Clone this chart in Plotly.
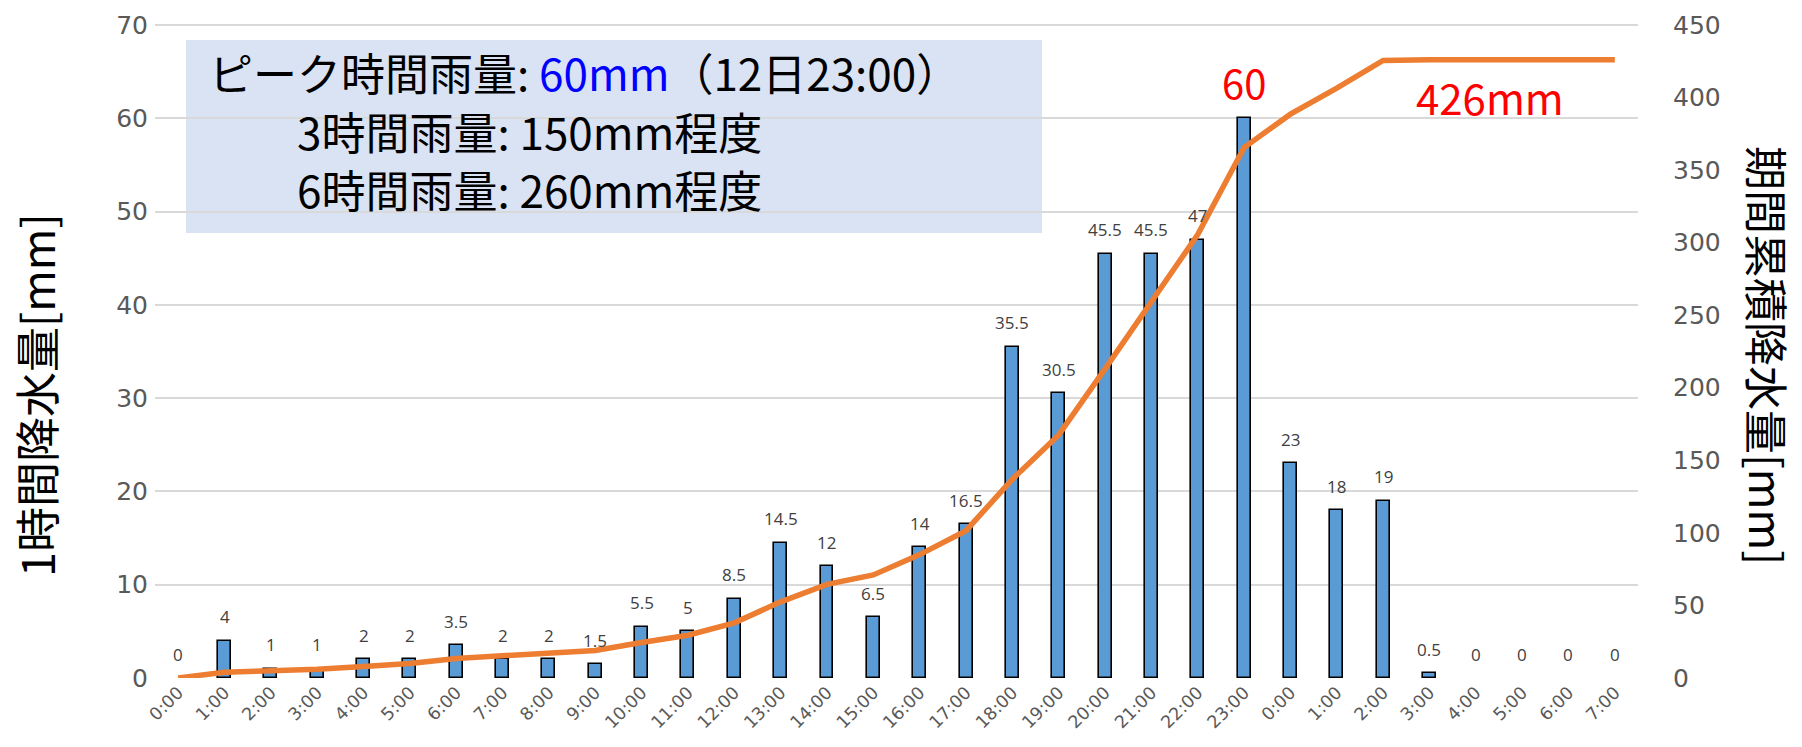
import plotly.graph_objects as go

# Hourly precipitation, 0:00 on the 12th through 7:00 on the 13th
hours = ["0:00", "1:00", "2:00", "3:00", "4:00", "5:00", "6:00", "7:00", "8:00", "9:00",
         "10:00", "11:00", "12:00", "13:00", "14:00", "15:00", "16:00", "17:00", "18:00",
         "19:00", "20:00", "21:00", "22:00", "23:00", "0:00", "1:00", "2:00", "3:00",
         "4:00", "5:00", "6:00", "7:00"]
hourly_mm = [0, 4, 1, 1, 2, 2, 3.5, 2, 2, 1.5, 5.5, 5, 8.5, 14.5, 12, 6.5, 14, 16.5,
             35.5, 30.5, 45.5, 45.5, 47, 60, 23, 18, 19, 0.5, 0, 0, 0, 0]
left_ticks = [0, 10, 20, 30, 40, 50, 60, 70]
right_ticks = [0, 50, 100, 150, 200, 250, 300, 350, 400, 450]

# running total over the period
cumulative_mm = []
total = 0.0
for v in hourly_mm:
    total += v
    cumulative_mm.append(total)

idx = list(range(len(hours)))
peak_i = max(idx, key=lambda i: hourly_mm[i])

W, H = 1802, 747
ML, MR, MT, MB = 155, 164, 21, 69
PW, PH = W - ML - MR, H - MT - MB


def px(x):
    return (x - ML) / PW


def py(y):
    return (H - MB - y) / PH


# a little headroom so the top gridline is drawn
TOP_PAD = 1.006

fig = go.Figure()
fig.add_trace(go.Bar(
    x=idx, y=hourly_mm, width=0.28,
    marker=dict(color="#5B9BD5",
                line=dict(color="#000000",
                          width=[1.6 if v > 0 else 0 for v in hourly_mm])),
    hoverinfo="skip", showlegend=False,
))
fig.add_trace(go.Scatter(
    x=idx, y=cumulative_mm, yaxis="y2", mode="lines",
    line=dict(color="#ED7D31", width=5.5),
    hoverinfo="skip", showlegend=False,
))

annotations = []
label_font = dict(family="Open Sans, Noto Sans CJK JP", size=17, color="#404040")
for i, v in zip(idx, hourly_mm):
    txt = ("%g" % v)
    if i == peak_i:
        annotations.append(dict(x=i, y=v, xref="x", yref="y", text=txt, showarrow=False,
                                yshift=36, font=dict(family="Noto Sans CJK JP", size=40, color="#FF0000")))
    else:
        annotations.append(dict(x=i, y=v, xref="x", yref="y", text=txt, showarrow=False,
                                yshift=24, font=label_font))

# period total next to the flat end of the line
annotations.append(dict(x=28.3, y=cumulative_mm[-1], xref="x", yref="y2",
                        text="%gmm" % cumulative_mm[-1], showarrow=False, yshift=-37,
                        font=dict(family="Noto Sans CJK JP", size=42, color="#FF0000")))

# summary box text, one annotation per line
box_font = dict(family="Noto Sans CJK JP", size=44, color="#000000")
summary_lines = [
    (208, 72, "ピーク時間雨量: <span style='color:#0000FF'>60mm</span>（12日23:00）"),
    (296, 131, "3時間雨量: 150mm程度"),
    (296, 189, "6時間雨量: 260mm程度"),
]
for lx, ly, txt in summary_lines:
    annotations.append(dict(x=px(lx), y=py(ly), xref="paper", yref="paper", xanchor="left",
                            yanchor="middle", showarrow=False, borderpad=0, text=txt,
                            font=box_font))

# axis titles
annotations.append(dict(x=px(35), y=py(395), xref="paper", yref="paper", showarrow=False,
                        xanchor="center", yanchor="middle", borderpad=0,
                        textangle=-90, text="1時間降水量[mm]",
                        font=dict(family="Noto Sans CJK JP", size=45, color="#000000")))
annotations.append(dict(x=px(1768), y=py(355), xref="paper", yref="paper", showarrow=False,
                        xanchor="center", yanchor="middle", borderpad=0,
                        textangle=90, text="期間累積降水量[mm]",
                        font=dict(family="Noto Sans CJK JP", size=44, color="#000000")))

tick_font = dict(family="DejaVu Sans", size=25, color="#595959")

fig.update_layout(
    width=W, height=H,
    margin=dict(l=ML, r=MR, t=MT, b=MB),
    paper_bgcolor="#FFFFFF", plot_bgcolor="#FFFFFF",
    bargap=0,
    shapes=[dict(type="rect", xref="paper", yref="paper", layer="below",
                 x0=px(186), x1=px(1042), y0=py(233), y1=py(40),
                 fillcolor="#DAE3F3", line=dict(width=0))],
    xaxis=dict(
        tickmode="array", tickvals=idx, ticktext=hours, tickangle=-45,
        range=[-0.5, len(hours) - 0.5], showgrid=False, zeroline=False,
        showline=False, ticks="",
        tickfont=dict(family="DejaVu Sans", size=17.5, color="#595959"),
    ),
    yaxis=dict(
        range=[0, left_ticks[-1] * TOP_PAD], tickvals=left_ticks, showgrid=True,
        gridcolor="#D9D9D9", gridwidth=1.5, zeroline=False, showline=False, ticks="",
        ticklabelstandoff=6, tickfont=tick_font,
    ),
    yaxis2=dict(
        range=[0, right_ticks[-1] * TOP_PAD], tickvals=right_ticks, overlaying="y",
        side="right", showgrid=False, zeroline=False, showline=False, ticks="",
        ticklabelstandoff=34, tickfont=tick_font,
    ),
    annotations=annotations,
)

fig.write_html("out.html")
